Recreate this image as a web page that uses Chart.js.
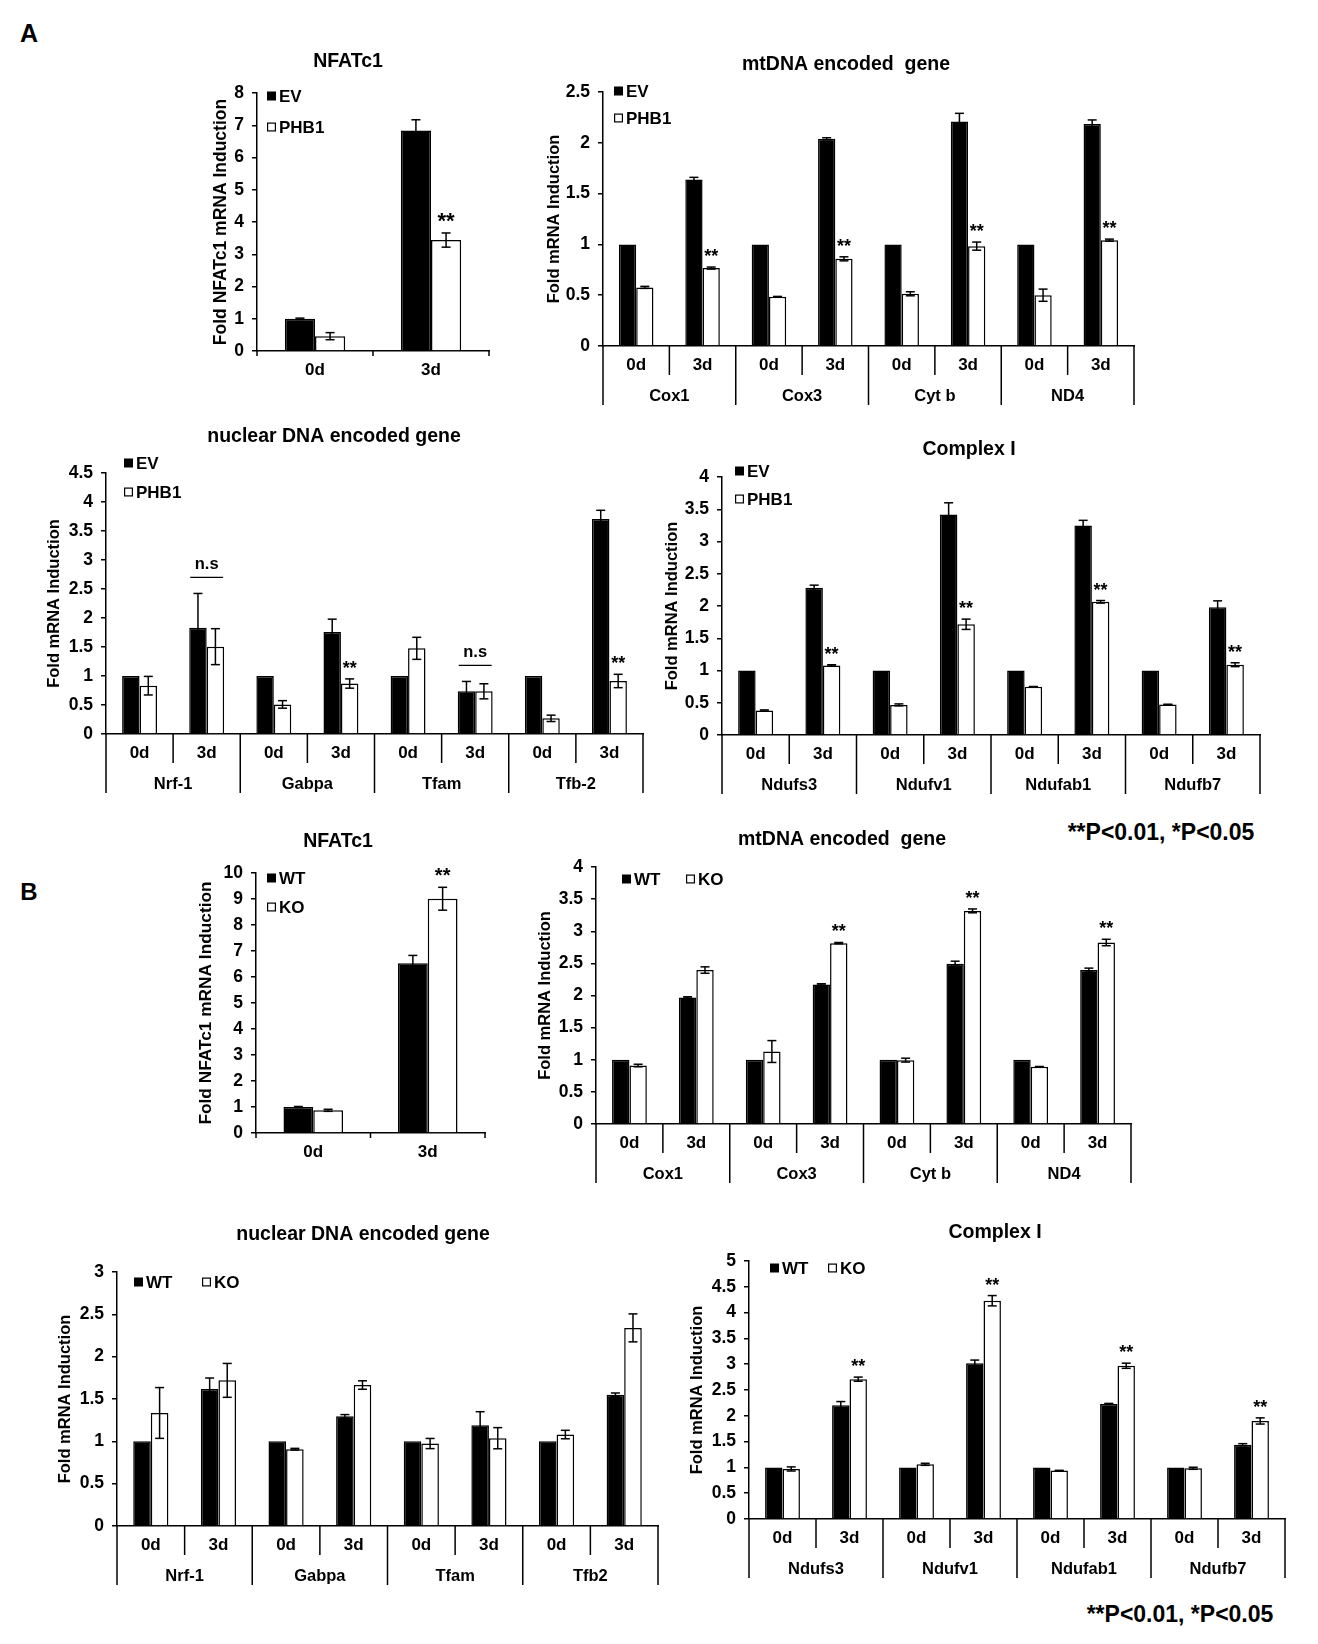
<!DOCTYPE html>
<html>
<head>
<meta charset="utf-8">
<script src="https://cdn.jsdelivr.net/npm/chart.js@4.4.1/dist/chart.umd.min.js"></script>
<style>
  html, body { margin: 0; padding: 0; background: #fff; }
  #page { position: relative; width: 1318px; height: 1644px; overflow: hidden; background: #fff; }
  #page canvas { position: absolute; }
  .lbl {
    position: absolute; transform: translate(-50%, -50%);
    font-family: 'Liberation Sans', Arial, sans-serif; font-weight: bold;
    color: #000; white-space: nowrap; line-height: 1;
  }
</style>
</head>
<body>
<div id="page">
  <div class="lbl" style="left:29px;top:33px;font-size:25px">A</div>
  <div class="lbl" style="left:29px;top:892px;font-size:24px">B</div>
  <div class="lbl" style="left:1161px;top:832px;font-size:23px">**P&lt;0.01, *P&lt;0.05</div>
  <div class="lbl" style="left:1180px;top:1614px;font-size:23px">**P&lt;0.01, *P&lt;0.05</div>
</div>
<script>
// ---- data ----
var days = ['0d', '3d'];
var dayPairs = ['0d', '3d', '0d', '3d', '0d', '3d', '0d', '3d'];
var mtGenes = ['Cox1', 'Cox3', 'Cyt b', 'ND4'];
var nucGenesA = ['Nrf-1', 'Gabpa', 'Tfam', 'Tfb-2'];
var nucGenesB = ['Nrf-1', 'Gabpa', 'Tfam', 'Tfb2'];
var cxGenes = ['Ndufs3', 'Ndufv1', 'Ndufab1', 'Ndufb7'];

// A: EV vs PHB1
var aNfatEV = [1.0, 6.84];
var aNfatEVErr = [0.02, 0.33];
var aNfatPHB1 = [0.46, 3.44];
var aNfatPHB1Err = [0.11, 0.22];
var aNfatSig = ['', '**'];

var aMtEV = [1.0, 1.64, 1.0, 2.04, 1.0, 2.21, 1.0, 2.185];
var aMtEVErr = [0, 0.02, 0, 0.01, 0, 0.08, 0, 0.04];
var aMtPHB1 = [0.577, 0.767, 0.485, 0.858, 0.514, 0.983, 0.50, 1.042];
var aMtPHB1Err = [0.01, 0.01, 0.003, 0.02, 0.02, 0.04, 0.06, 0.01];
var aMtSig = ['', '**', '', '**', '', '**', '', '**'];

var aNucEV = [1.0, 1.833, 1.0, 1.76, 1.0, 0.736, 1.0, 3.707];
var aNucEVErr = [0, 0.59, 0, 0.22, 0, 0.17, 0, 0.15];
var aNucPHB1 = [0.833, 1.506, 0.51, 0.87, 1.477, 0.736, 0.27, 0.914];
var aNucPHB1Err = [0.16, 0.31, 0.065, 0.08, 0.19, 0.13, 0.055, 0.115];
var aNucSig = ['', 'n.s', '', '**', '', 'n.s', '', '**'];

var aCxEV = [1.0, 2.283, 1.0, 3.42, 1.0, 3.248, 1.0, 1.98];
var aCxEVErr = [0, 0.04, 0, 0.18, 0, 0.08, 0, 0.1];
var aCxPHB1 = [0.379, 1.079, 0.467, 1.717, 0.747, 2.065, 0.472, 1.09];
var aCxPHB1Err = [0.01, 0.01, 0.015, 0.08, 0.005, 0.02, 0.005, 0.03];
var aCxSig = ['', '**', '', '**', '', '**', '', '**'];

// B: WT vs KO
var bNfatWT = [1.0, 6.53];
var bNfatWTErr = [0.02, 0.3];
var bNfatKO = [0.873, 9.01];
var bNfatKOErr = [0.04, 0.44];
var bNfatSig = ['', '**'];

var bMtWT = [1.0, 1.97, 1.0, 2.173, 1.0, 2.494, 1.0, 2.396];
var bMtWTErr = [0, 0.01, 0, 0.01, 0, 0.04, 0, 0.03];
var bMtKO = [0.91, 2.396, 1.128, 2.815, 0.994, 3.317, 0.89, 2.825];
var bMtKOErr = [0.02, 0.05, 0.17, 0.01, 0.03, 0.03, 0.005, 0.05];
var bMtSig = ['', '', '', '**', '', '**', '', '**'];

var bNucWT = [1.0, 1.618, 1.0, 1.296, 1.0, 1.19, 1.0, 1.551];
var bNucWTErr = [0, 0.13, 0, 0.02, 0, 0.16, 0, 0.02];
var bNucKO = [1.335, 1.72, 0.907, 1.665, 0.974, 1.037, 1.08, 2.34];
var bNucKOErr = [0.3, 0.2, 0.01, 0.05, 0.06, 0.125, 0.05, 0.165];
var bNucSig = ['', '', '', '', '', '', '', ''];

var bCxWT = [1.0, 2.206, 1.0, 3.02, 1.0, 2.23, 1.0, 1.44];
var bCxWTErr = [0, 0.07, 0, 0.06, 0, 0.01, 0, 0.02];
var bCxKO = [0.97, 2.71, 1.06, 4.23, 0.938, 2.97, 0.983, 1.90];
var bCxKOErr = [0.04, 0.04, 0.02, 0.1, 0.005, 0.05, 0.02, 0.06];
var bCxSig = ['', '**', '', '**', '', '**', '', '**'];

// ---- drawing ----
var FONT = "'Liberation Sans', Arial, sans-serif";
var PAD = { l: 100, t: 80, r: 20, b: 70 };

function fnt(size) { return 'bold ' + size + 'px ' + FONT; }

function makePanel(lay, spec) {
  var W = Math.round(lay.R - lay.L) + PAD.l + PAD.r;
  var H = Math.round(lay.B - lay.T) + PAD.t + PAD.b;
  var ox = Math.round(lay.L) - PAD.l;
  var oy = Math.round(lay.T) - PAD.t;
  var cv = document.createElement('canvas');
  cv.width = W; cv.height = H;
  cv.style.left = ox + 'px'; cv.style.top = oy + 'px';
  cv.style.width = W + 'px'; cv.style.height = H + 'px';
  document.getElementById('page').appendChild(cv);

  function line(ctx, x1, y1, x2, y2) {
    ctx.beginPath(); ctx.moveTo(x1, y1); ctx.lineTo(x2, y2); ctx.stroke();
  }

  var decor = {
    id: 'decor',
    afterDraw: function (chart) {
      var ctx = chart.ctx, a = chart.chartArea, ys = chart.scales.y;
      var n = spec.labels.length, w = (a.right - a.left) / n;
      ctx.save();
      ctx.strokeStyle = '#000'; ctx.fillStyle = '#000'; ctx.lineWidth = 1.5;

      // category separators
      for (var k = 0; k <= n; k++) {
        var x = a.left + k * w;
        var len = spec.genes ? (k % 2 === 0 ? 59 : 29) : 5;
        line(ctx, x, a.bottom, x, a.bottom + len);
      }
      // gene names
      if (spec.genes) {
        ctx.font = fnt(16.5); ctx.textAlign = 'center'; ctx.textBaseline = 'middle';
        spec.genes.forEach(function (g, i) {
          ctx.fillText(g, a.left + (2 * i + 1) * w, a.bottom + 50);
        });
      }

      // error bars
      var tops = [];
      chart.data.datasets.forEach(function (ds, d) {
        var meta = chart.getDatasetMeta(d);
        tops[d] = [];
        meta.data.forEach(function (bar, i) {
          var v = ds.data[i], e = ds.err[i];
          var yt = ys.getPixelForValue(v + e), yb = ys.getPixelForValue(v - e);
          tops[d][i] = yt;
          if (!e) return;
          ctx.lineWidth = 1.5;
          line(ctx, bar.x, yt, bar.x, yb);
          line(ctx, bar.x - 4.5, yt, bar.x + 4.5, yt);
          line(ctx, bar.x - 4.5, yb, bar.x + 4.5, yb);
        });
      });

      // significance marks
      var m0 = chart.getDatasetMeta(0).data, m1 = chart.getDatasetMeta(1).data;
      spec.sig.forEach(function (s, i) {
        if (s === '**') {
          ctx.font = fnt(lay.starSize || 18); ctx.textAlign = 'center'; ctx.textBaseline = 'alphabetic';
          ctx.fillText('**', m1[i].x, tops[1][i] - 5);
        } else if (s === 'n.s') {
          var ly = Math.min(tops[0][i], tops[1][i]) - 16;
          ctx.lineWidth = 1.2;
          line(ctx, m0[i].x - m0[i].width / 2 + 1, ly, m1[i].x + m1[i].width / 2 - 1, ly);
          ctx.font = fnt(16.5); ctx.textAlign = 'center'; ctx.textBaseline = 'alphabetic';
          ctx.fillText('n.s', (m0[i].x + m1[i].x) / 2, ly - 8);
        }
      });

      // title
      ctx.font = fnt(19.5); ctx.textAlign = 'center'; ctx.textBaseline = 'middle';
      ctx.fillText(spec.title, lay.title[0] - ox, lay.title[1] - oy);

      // y axis title
      ctx.save();
      ctx.translate(a.left - lay.yTitleOff, (a.top + a.bottom) / 2);
      ctx.rotate(-Math.PI / 2);
      ctx.font = fnt(lay.yTitleSize || 16.5);
      ctx.fillText(spec.yTitle, 0, 0);
      ctx.restore();

      // legend
      var lg = lay.legend;
      ctx.font = fnt(17); ctx.textAlign = 'left'; ctx.textBaseline = 'middle';
      spec.names.forEach(function (nm, j) {
        var lx = lg.x + j * lg.dx - ox, lyy = lg.y + j * lg.dy - oy;
        ctx.lineWidth = 1.2;
        if (j === 0) { ctx.fillStyle = '#000'; ctx.fillRect(lx, lyy - 4.5, 9, 9); }
        else { ctx.strokeRect(lx + 0.6, lyy - 3.9, 7.8, 7.8); }
        ctx.fillStyle = '#000';
        ctx.fillText(nm, lx + 12, lyy + 1);
      });
      ctx.restore();
    }
  };

  new Chart(cv, {
    type: 'bar',
    data: {
      labels: spec.labels,
      datasets: [
        { label: spec.names[0], data: spec.s0, err: spec.e0,
          backgroundColor: '#000', borderColor: '#000', borderWidth: 1.5 },
        { label: spec.names[1], data: spec.s1, err: spec.e1,
          backgroundColor: '#fff', borderColor: '#000', borderWidth: 1.5 }
      ]
    },
    options: {
      responsive: false,
      animation: false,
      devicePixelRatio: 1,
      categoryPercentage: 0.52,
      barPercentage: 1,
      layout: { padding: { left: 0, top: PAD.t, right: PAD.r, bottom: 0 } },
      plugins: { legend: { display: false }, tooltip: { enabled: false } },
      scales: {
        x: {
          offset: true,
          grid: { display: false, drawTicks: false },
          border: { display: true, color: '#000', width: 1.5 },
          ticks: { color: '#000', font: { family: FONT, weight: 'bold', size: 17 },
                   padding: 9.5, maxRotation: 0, autoSkip: false },
          afterFit: function (s) { s.height = PAD.b; }
        },
        y: {
          min: 0, max: lay.max,
          grid: { drawOnChartArea: false, drawTicks: true, tickLength: 5, color: '#000', lineWidth: 1.5 },
          border: { display: true, color: '#000', width: 1.5 },
          ticks: { stepSize: lay.step, color: '#000', padding: 8,
                   font: { family: FONT, weight: 'bold', size: 17.5 },
                   callback: function (v) { return String(Math.round(v * 100) / 100); } },
          afterFit: function (s) { s.width = PAD.l; }
        }
      }
    },
    plugins: [decor]
  });
}

var yFold = 'Fold mRNA Induction';
var yNfat = 'Fold NFATc1 mRNA Induction';

makePanel(
  { L: 257, R: 489, T: 92.5, B: 350, max: 8, step: 1, title: [348, 62], yTitleOff: 36, yTitleSize: 17.5,
    starSize: 22, legend: { x: 267, y: 96, dx: 0, dy: 31 } },
  { title: 'NFATc1', yTitle: yNfat, labels: days, genes: null, names: ['EV', 'PHB1'],
    s0: aNfatEV, e0: aNfatEVErr, s1: aNfatPHB1, e1: aNfatPHB1Err, sig: aNfatSig });

makePanel(
  { L: 603, R: 1134, T: 91.7, B: 346, max: 2.5, step: 0.5, title: [846, 65], yTitleOff: 49,
    legend: { x: 614, y: 91, dx: 0, dy: 27 } },
  { title: 'mtDNA encoded  gene', yTitle: yFold, labels: dayPairs, genes: mtGenes, names: ['EV', 'PHB1'],
    s0: aMtEV, e0: aMtEVErr, s1: aMtPHB1, e1: aMtPHB1Err, sig: aMtSig });

makePanel(
  { L: 105.5, R: 642, T: 473, B: 734, max: 4.5, step: 0.5, title: [334, 437], yTitleOff: 52,
    legend: { x: 124, y: 463, dx: 0, dy: 29 } },
  { title: 'nuclear DNA encoded gene', yTitle: yFold, labels: dayPairs, genes: nucGenesA, names: ['EV', 'PHB1'],
    s0: aNucEV, e0: aNucEVErr, s1: aNucPHB1, e1: aNucPHB1Err, sig: aNucSig });

makePanel(
  { L: 722, R: 1260, T: 476.5, B: 734, max: 4, step: 0.5, title: [969, 450], yTitleOff: 50,
    legend: { x: 735, y: 471, dx: 0, dy: 28 } },
  { title: 'Complex I', yTitle: yFold, labels: dayPairs, genes: cxGenes, names: ['EV', 'PHB1'],
    s0: aCxEV, e0: aCxEVErr, s1: aCxPHB1, e1: aCxPHB1Err, sig: aCxSig });

makePanel(
  { L: 256, R: 485, T: 873, B: 1133, max: 10, step: 1, title: [338, 842], yTitleOff: 50, yTitleSize: 17.3,
    starSize: 20, legend: { x: 267, y: 878, dx: 0, dy: 29 } },
  { title: 'NFATc1', yTitle: yNfat, labels: days, genes: null, names: ['WT', 'KO'],
    s0: bNfatWT, e0: bNfatWTErr, s1: bNfatKO, e1: bNfatKOErr, sig: bNfatSig });

makePanel(
  { L: 596, R: 1131, T: 866.5, B: 1123.7, max: 4, step: 0.5, title: [842, 840], yTitleOff: 51,
    legend: { x: 622, y: 879, dx: 64, dy: 0 } },
  { title: 'mtDNA encoded  gene', yTitle: yFold, labels: dayPairs, genes: mtGenes, names: ['WT', 'KO'],
    s0: bMtWT, e0: bMtWTErr, s1: bMtKO, e1: bMtKOErr, sig: bMtSig });

makePanel(
  { L: 117, R: 658, T: 1271.5, B: 1525.5, max: 3, step: 0.5, title: [363, 1235], yTitleOff: 52,
    legend: { x: 134, y: 1282, dx: 68, dy: 0 } },
  { title: 'nuclear DNA encoded gene', yTitle: yFold, labels: dayPairs, genes: nucGenesB, names: ['WT', 'KO'],
    s0: bNucWT, e0: bNucWTErr, s1: bNucKO, e1: bNucKOErr, sig: bNucSig });

makePanel(
  { L: 749, R: 1285, T: 1261, B: 1518.5, max: 5, step: 0.5, title: [995, 1233], yTitleOff: 52,
    legend: { x: 770, y: 1268, dx: 58, dy: 0 } },
  { title: 'Complex I', yTitle: yFold, labels: dayPairs, genes: cxGenes, names: ['WT', 'KO'],
    s0: bCxWT, e0: bCxWTErr, s1: bCxKO, e1: bCxKOErr, sig: bCxSig });
</script>
</body>
</html>
